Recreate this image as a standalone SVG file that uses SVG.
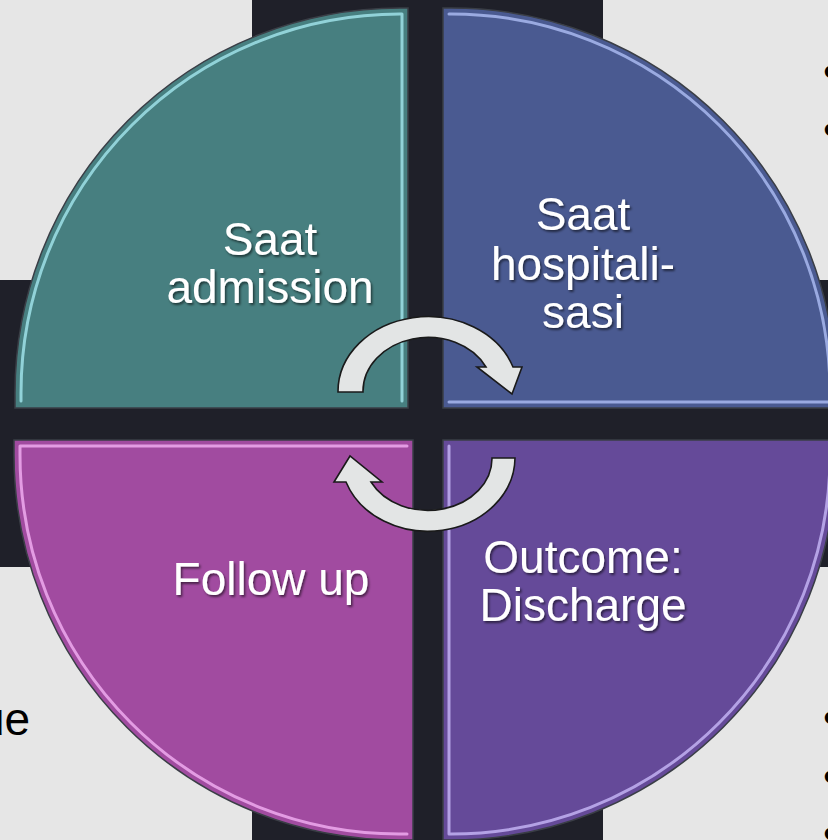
<svg xmlns="http://www.w3.org/2000/svg" width="828" height="840" viewBox="0 0 828 840">
<defs>
<style>
.lbl{font-family:"Liberation Sans",Arial,sans-serif;font-size:46px;fill:#ffffff;text-anchor:middle;filter:url(#ts)}
.side{font-family:"Liberation Sans",Arial,sans-serif;font-size:46px;fill:#000000}
.shape{stroke:#3a3e46;stroke-width:1.5}
.hl{fill:none;stroke-width:3;stroke-linecap:round;stroke-linejoin:round;opacity:0.85}
.arrow{fill:#e3e5e5;stroke:#1a1a1a;stroke-width:1.6;stroke-linejoin:miter}
</style>
<filter id="ts" x="-10%" y="-20%" width="130%" height="150%">
<feDropShadow dx="1.5" dy="2" stdDeviation="1.2" flood-color="#000000" flood-opacity="0.55"/>
</filter>
</defs>
<g id="background">
<rect x="0" y="0" width="828" height="840" fill="#e6e6e6"/>
<rect x="252" y="0" width="351" height="840" fill="#1f2029"/>
<rect x="0" y="280" width="828" height="287" fill="#1f2029"/>
<text class="side" x="-21" y="735">ue</text>
<text class="side" x="823" y="87">•</text>
<text class="side" x="823" y="145">•</text>
<text class="side" x="823" y="733">•</text>
<text class="side" x="823" y="792">•</text>
<text class="side" x="823" y="849">•</text>
</g>
<g id="node-admission">
<path class="shape" fill="#477f80" d="M408 408 L15 408 L15 393 A385 385 0 0 1 400 8 L408 8 Z"/>
<path class="hl" stroke="#9fe0e8" d="M21 401 L21 393 A379 379 0 0 1 400 14 L402 14 L402 401"/>
<text class="lbl" x="270" y="255">Saat</text>
<text class="lbl" x="270" y="303">admission</text>
</g>
<g id="node-hospitalisasi">
<path class="shape" fill="#4a5a91" d="M443 408 L443 8 L451 8 A385 385 0 0 1 836 393 L836 408 Z"/>
<path class="hl" stroke="#a8b8ee" d="M449 14 L451 14 A379 379 0 0 1 830 393 L830 402 L449 402"/>
<text class="lbl" x="583" y="230">Saat</text>
<text class="lbl" x="583" y="280">hospitali-</text>
<text class="lbl" x="583" y="328">sasi</text>
</g>
<g id="node-followup">
<path class="shape" fill="#a14ba0" d="M413 440 L14 440 L14 455 A385 385 0 0 0 399 840 L413 840 Z"/>
<path class="hl" stroke="#eeaaee" d="M407 446 L20 446 L20 455 A379 379 0 0 0 399 834 L407 834"/>
<text class="lbl" x="271" y="595">Follow up</text>
</g>
<g id="node-discharge">
<path class="shape" fill="#654a99" d="M443 440 L836 440 L836 455 A385 385 0 0 1 451 840 L443 840 Z"/>
<path class="hl" stroke="#c2b2f2" d="M830 446 L830 455 A379 379 0 0 1 451 834 L449 834 L449 446"/>
<text class="lbl" x="583" y="573">Outcome:</text>
<text class="lbl" x="583" y="621">Discharge</text>
</g>
<g id="connectors">
<path class="arrow" d="M338 392 A90 75 0 0 1 513 367 L522 367 L512 394 L477 367 L486 367 A65 54 0 0 0 363 392 Z"/>
<path class="arrow" d="M515 458 A87 74 0 0 1 346 482 L334 482 L350 456 L382 482 L371 482 A64 52 0 0 0 492 458 Z"/>
</g>
</svg>
